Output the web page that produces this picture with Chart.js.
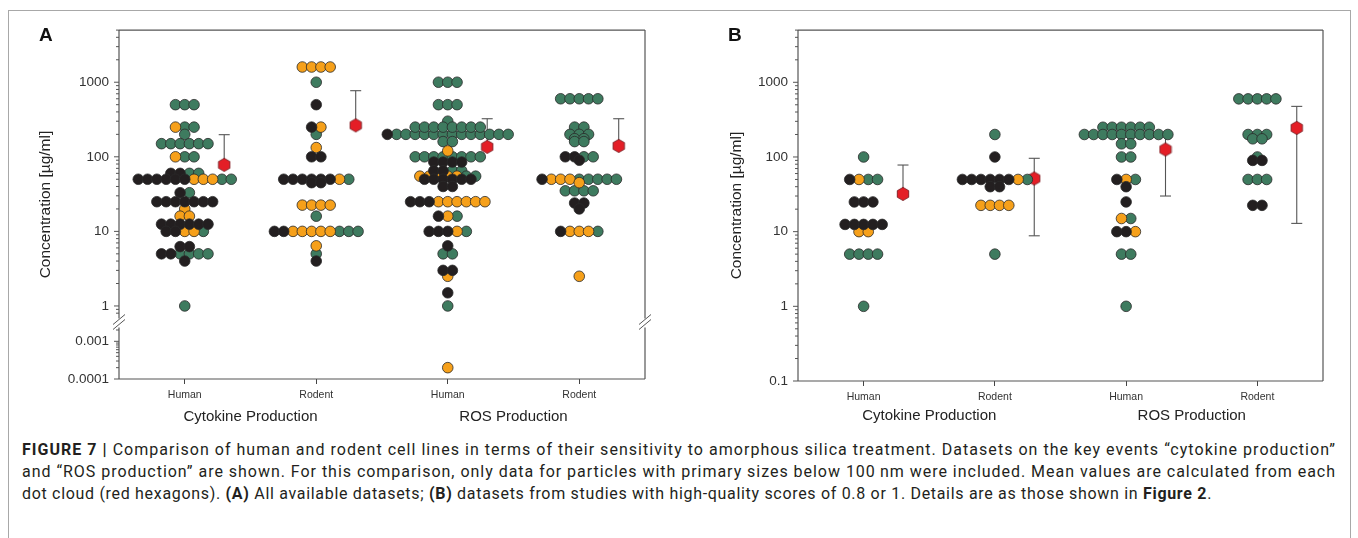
<!DOCTYPE html>
<html>
<head>
<meta charset="utf-8">
<script src="https://cdn.jsdelivr.net/npm/chart.js@4.4.0/dist/chart.umd.min.js"></script>
<style>
body { margin: 0; background: #fff; width: 1358px; height: 538px; overflow: hidden; position: relative; font-family: "Liberation Sans", Arial, sans-serif; }
#frame { position: absolute; left: 8px; top: 10px; width: 1341px; height: 540px; border: 1px solid #a8a8a8; }
canvas { position: absolute; top: 12px; }
#chartA { left: 8px; }
#chartB { left: 690px; }
.letter { position: absolute; top: 24px; font-weight: bold; font-size: 19px; color: #111; }
#caption { position: absolute; left: 22px; top: 439px; font-family: Roboto, sans-serif; font-size: 16px; line-height: 22px; color: #231f20; }
#caption .ln { display: block; white-space: nowrap; width: max-content; }
</style>
</head>
<body>
<div id="frame"></div>
<canvas id="chartA" width="680" height="415"></canvas>
<canvas id="chartB" width="658" height="415"></canvas>
<div class="letter" style="left:39px">A</div>
<div class="letter" style="left:728px">B</div>
<div id="caption">
  <span class="ln" data-w="1314"><b>FIGURE 7 |</b> Comparison of human and rodent cell lines in terms of their sensitivity to amorphous silica treatment. Datasets on the key events “cytokine production”</span>
  <span class="ln" data-w="1314">and “ROS production” are shown. For this comparison, only data for particles with primary sizes below 100&#8201;nm were included. Mean values are calculated from each</span>
  <span class="ln" data-w="1190">dot cloud (red hexagons). <b>(A)</b> All available datasets; <b>(B)</b> datasets from studies with high-quality scores of 0.8 or 1. Details are as those shown in <b>Figure 2</b>.</span>
</div>
<script>
var categories = ['Human', 'Rodent', 'Human', 'Rodent'];
var groupNames = ['Cytokine Production', 'ROS Production'];
var yLabelsA = [0.0001, 0.001, 1, 10, 100, 1000];
var yLabelsB = [0.1, 1, 10, 100, 1000];

// panel A, one list per column: cytokine human, cytokine rodent, ROS human, ROS rodent
var blackA = [
    [60, 60, 50, 50, 50, 50, 50, 50, 33, 25, 25, 25, 25, 25, 25, 25, 12.5, 12.5, 12.5, 12.5, 12.5, 12.5, 10, 10, 6.25, 6.25, 5, 5, 4],
    [500, 250, 100, 100, 50, 50, 50, 50, 50, 50, 45, 45, 10, 10, 4],
    [200, 85, 85, 85, 85, 65, 65, 50, 50, 50, 50, 50, 50, 40, 40, 25, 25, 25, 16, 10, 10, 10, 6.4, 3, 3, 1.5],
    [100, 100, 90, 50, 24, 24, 20, 10]
];
var orangeA = [
    [250, 100, 50, 50, 50, 20, 16, 16, 10, 10],
    [1600, 1600, 1600, 1600, 250, 133, 50, 22.5, 22.5, 22.5, 22.5, 10, 10, 10, 10, 10, 6.4],
    [120, 55, 55, 55, 55, 55, 25, 25, 25, 25, 25, 25, 16, 10, 2.5, 0.0002],
    [50, 50, 50, 45, 10, 10, 10, 2.5]
];
var greenA = [
    [500, 500, 500, 250, 250, 200, 150, 150, 150, 150, 150, 150, 100, 100, 60, 60, 50, 50, 33, 10, 5, 5, 5, 5, 1],
    [1000, 200, 50, 16, 10, 10, 10, 5],
    [1000, 1000, 1000, 500, 500, 500, 300, 250, 250, 250, 250, 250, 250, 250, 250,
     200, 200, 200, 200, 200, 200, 200, 200, 200, 200, 200, 200, 200, 160, 160,
     100, 100, 100, 100, 100, 100, 100, 100, 65, 65, 55, 55, 16, 10, 5, 5, 1],
    [600, 600, 600, 600, 600, 250, 250, 200, 200, 200, 175, 175, 160, 160, 100, 100, 50, 50, 50, 50, 50, 35, 35, 35, 35, 10]
];
var meanA = [78, 264, 136, 140];
var upperA = [198, 770, 324, 324];
var lowerA = [null, null, null, null];

// panel B, same columns
var blackB = [
    [50, 25, 25, 25, 12.5, 12.5, 12.5, 12.5, 12.5],
    [100, 50, 50, 50, 50, 50, 50, 40, 40],
    [50, 40, 25, 10, 10],
    [90, 90, 22.5, 22.5]
];
var orangeB = [
    [50, 10, 10],
    [50, 22.5, 22.5, 22.5, 22.5],
    [50, 15, 10],
    []
];
var greenB = [
    [100, 50, 50, 5, 5, 5, 5, 1],
    [200, 50, 5],
    [250, 250, 250, 250, 250, 250, 200, 200, 200, 200, 200, 200, 200, 200, 200, 200, 150, 150, 100, 100, 50, 15, 5, 5, 1],
    [600, 600, 600, 600, 600, 200, 200, 200, 175, 175, 100, 50, 50, 50]
];
var meanB = [32, 51.5, 126, 245];
var upperB = [78, 96, 212, 476];
var lowerB = [null, 8.8, 30, 12.9];

var COLORS = ['#231f20', '#f6a01a', '#3e7b5f'];
var SPACING = 0.0707;     // one dot width, in column units
var MEAN_SHIFT = 0.30;

function makeHex(r) {
    var c = document.createElement('canvas');
    var w = Math.ceil(r * 1.732) + 2, h = Math.ceil(r * 2) + 2;
    c.width = w; c.height = h;
    var g = c.getContext('2d');
    g.beginPath();
    for (var k = 0; k < 6; k++) {
        var a = Math.PI / 2 + k * Math.PI / 3;
        var px = w / 2 + r * Math.cos(a), py = h / 2 + r * Math.sin(a);
        if (k === 0) g.moveTo(px, py); else g.lineTo(px, py);
    }
    g.closePath();
    g.fillStyle = '#e41e26';
    g.fill();
    g.lineWidth = 0.8;
    g.strokeStyle = '#6d1216';
    g.stroke();
    return c;
}
var hexImg = makeHex(6.6);

// lay the dots of one column side by side, row by row
function swarm(col, lists) {
    var rows = {}, order = [];
    lists.forEach(function(vals, k) {
        vals.forEach(function(v) {
            if (!rows[v]) { rows[v] = []; order.push(v); }
            rows[v].push(k);
        });
    });
    var out = [[], [], []];
    order.forEach(function(v) {
        var r = rows[v];
        for (var i = 0; i < r.length; i++) {
            out[r[i]].push({ x: col + (i - (r.length - 1) / 2) * SPACING, y: v });
        }
    });
    return out;
}

function logTicks(min, max) {
    var out = [];
    for (var e = Math.floor(Math.log10(min)); e <= Math.ceil(Math.log10(max)); e++) {
        for (var m = 1; m <= 9; m++) {
            var v = parseFloat((m * Math.pow(10, e)).toPrecision(6));
            if (v >= min * 0.9999 && v <= max * 1.0001) out.push({ value: v, major: m === 1 });
        }
    }
    return out;
}

function isLabel(v, labels) {
    for (var i = 0; i < labels.length; i++) {
        if (Math.abs(v / labels[i] - 1) < 1e-6) return true;
    }
    return false;
}

function logAxis(min, max, labels, width, extra) {
    var ax = {
        type: 'logarithmic', position: 'left', min: min, max: max,
        afterBuildTicks: function(s) { s.ticks = logTicks(min, max); },
        afterFit: function(s) { s.width = width; },
        grid: { display: false, drawTicks: false },
        border: { display: false },
        ticks: {
            autoSkip: false, padding: 10, color: '#333',
            font: { family: 'Liberation Sans', size: 13.5 },
            callback: function(v) { return isLabel(v, labels) ? String(v) : ''; }
        }
    };
    for (var k in extra) ax[k] = extra[k];
    return ax;
}

function xAxis(height) {
    return {
        type: 'linear', min: -0.5, max: 3.5,
        afterBuildTicks: function(s) { s.ticks = categories.map(function(c, i) { return { value: i }; }); },
        afterFit: function(s) { s.height = height; },
        grid: { drawOnChartArea: false, drawTicks: true, tickLength: 5, color: '#444', lineWidth: 1 },
        border: { display: false },
        ticks: {
            autoSkip: false, maxRotation: 0, padding: 5, color: '#333',
            font: { family: 'Liberation Sans', size: 10.5 },
            callback: function(v) { return categories[v]; }
        }
    };
}

function line(ctx, x1, y1, x2, y2) {
    ctx.beginPath();
    ctx.moveTo(x1, y1);
    ctx.lineTo(x2, y2);
    ctx.stroke();
}

var panelDecor = {
    id: 'panelDecor',
    beforeDatasetsDraw: function(chart) {
        var cfg = chart.options.plugins.panelDecor;
        var ctx = chart.ctx, xs = chart.scales.x, ys = chart.scales.y;
        ctx.save();
        ctx.strokeStyle = '#555';
        ctx.lineWidth = 1.1;
        for (var i = 0; i < cfg.means.length; i++) {
            var x = xs.getPixelForValue(i + MEAN_SHIFT);
            var ym = ys.getPixelForValue(cfg.means[i]);
            [cfg.upper[i], cfg.lower[i]].forEach(function(v) {
                if (v === null) return;
                var yv = ys.getPixelForValue(v);
                line(ctx, x, ym, x, yv);
                line(ctx, x - 5.5, yv, x + 5.5, yv);
            });
        }
        ctx.restore();
    },
    afterDraw: function(chart) {
        var cfg = chart.options.plugins.panelDecor;
        var ctx = chart.ctx, a = chart.chartArea, xs = chart.scales.x;
        ctx.save();
        ctx.strokeStyle = '#555';
        ctx.lineWidth = 1.2;
        line(ctx, a.left, a.top, a.right, a.top);
        line(ctx, a.left, a.bottom, a.right, a.bottom);
        if (cfg.brk) {
            var yb = chart.scales.y.bottom;
            [a.left, a.right].forEach(function(x0) {
                line(ctx, x0, a.top, x0, yb - 4);
                line(ctx, x0, yb + 5, x0, a.bottom);
                ctx.lineWidth = 1;
                line(ctx, x0 - 6, yb + 2, x0 + 6, yb - 8);
                line(ctx, x0 - 6, yb + 7, x0 + 6, yb - 3);
                ctx.lineWidth = 1.2;
            });
        } else {
            line(ctx, a.left, a.top, a.left, a.bottom);
            line(ctx, a.right, a.top, a.right, a.bottom);
        }
        // y tick marks, longer at the decades
        ctx.lineWidth = 1;
        ['y', 'yLow'].forEach(function(id) {
            var s = chart.scales[id];
            if (!s) return;
            s.ticks.forEach(function(t) {
                var p = s.getPixelForValue(t.value);
                if (p < s.top - 0.5 || p > s.bottom + 0.5) return;
                if (cfg.brk && Math.abs(p - chart.scales.y.bottom) < 5) return;
                line(ctx, a.left - (t.major ? 5 : 3), p, a.left, p);
            });
        });
        // axis title
        ctx.fillStyle = '#222';
        ctx.font = '15.5px "Liberation Sans"';
        ctx.textAlign = 'center';
        ctx.textBaseline = 'middle';
        ctx.translate(a.left - cfg.titleOffset, (a.top + a.bottom) / 2);
        ctx.rotate(-Math.PI / 2);
        ctx.fillText('Concentration [\u00b5g/ml]', 0, 0);
        ctx.restore();
        // group labels under each pair of columns
        ctx.save();
        ctx.fillStyle = '#222';
        ctx.font = '15px "Liberation Sans"';
        ctx.textAlign = 'center';
        ctx.textBaseline = 'middle';
        groupNames.forEach(function(g, i) {
            ctx.fillText(g, xs.getPixelForValue(i * 2 + 0.5), a.bottom + cfg.groupOffset);
        });
        ctx.restore();
    }
};

function buildDatasets(blacks, oranges, greens, means, split) {
    var sets = [[], [], [], [], [], []];
    for (var c = 0; c < 4; c++) {
        var pts = swarm(c, [blacks[c], oranges[c], greens[c]]);
        for (var k = 0; k < 3; k++) {
            pts[k].forEach(function(p) {
                if (split && p.y < 0.5) sets[k + 3].push(p); else sets[k].push(p);
            });
        }
    }
    var out = [];
    for (var k = 0; k < 6; k++) {
        if (k >= 3 && !split) break;
        out.push({
            data: sets[k],
            yAxisID: k >= 3 ? 'yLow' : 'y',
            backgroundColor: COLORS[k % 3],
            borderColor: '#2a2a2a',
            borderWidth: 0.8,
            pointRadius: 5.3,
            pointHoverRadius: 5.3
        });
    }
    out.push({
        data: means.map(function(m, i) { return { x: i + MEAN_SHIFT, y: m }; }),
        yAxisID: 'y',
        pointStyle: hexImg,
        pointRadius: 7
    });
    return out;
}

function baseOptions(padRight, scales, decor) {
    return {
        responsive: false,
        animation: false,
        devicePixelRatio: 1,
        layout: { padding: { top: 15, right: padRight, bottom: 0, left: 0 } },
        scales: scales,
        plugins: { legend: { display: false }, tooltip: { enabled: false }, panelDecor: decor }
    };
}

new Chart(document.getElementById('chartA'), {
    type: 'scatter',
    data: { datasets: buildDatasets(blackA, orangeA, greenA, meanA, true) },
    options: baseOptions(43, {
        x: xAxis(48),
        yLow: logAxis(0.0001, 0.00316, yLabelsA, 111, { stack: 'ya', stackWeight: 57, weight: 1 }),
        y: logAxis(0.6, 5000, yLabelsA, 111, { stack: 'ya', stackWeight: 295, weight: 2 })
    }, { means: meanA, upper: upperA, lower: lowerA, brk: true, titleOffset: 73, groupOffset: 38 }),
    plugins: [panelDecor]
});

new Chart(document.getElementById('chartB'), {
    type: 'scatter',
    data: { datasets: buildDatasets(blackB, orangeB, greenB, meanB, false) },
    options: baseOptions(25, {
        x: xAxis(46),
        y: logAxis(0.1, 5000, yLabelsB, 108, {})
    }, { means: meanB, upper: upperB, lower: lowerB, brk: false, titleOffset: 61, groupOffset: 35 }),
    plugins: [panelDecor]
});

// stretch each caption line to the width it has in the figure
function fitCaption() {
    document.querySelectorAll('#caption .ln').forEach(function(el) {
        el.style.letterSpacing = '0px';
        var w = el.getBoundingClientRect().width;
        var n = el.textContent.length;
        el.style.letterSpacing = ((Number(el.dataset.w) - w) / n) + 'px';
    });
}
fitCaption();
if (document.fonts) document.fonts.ready.then(fitCaption);
</script>
</body>
</html>
